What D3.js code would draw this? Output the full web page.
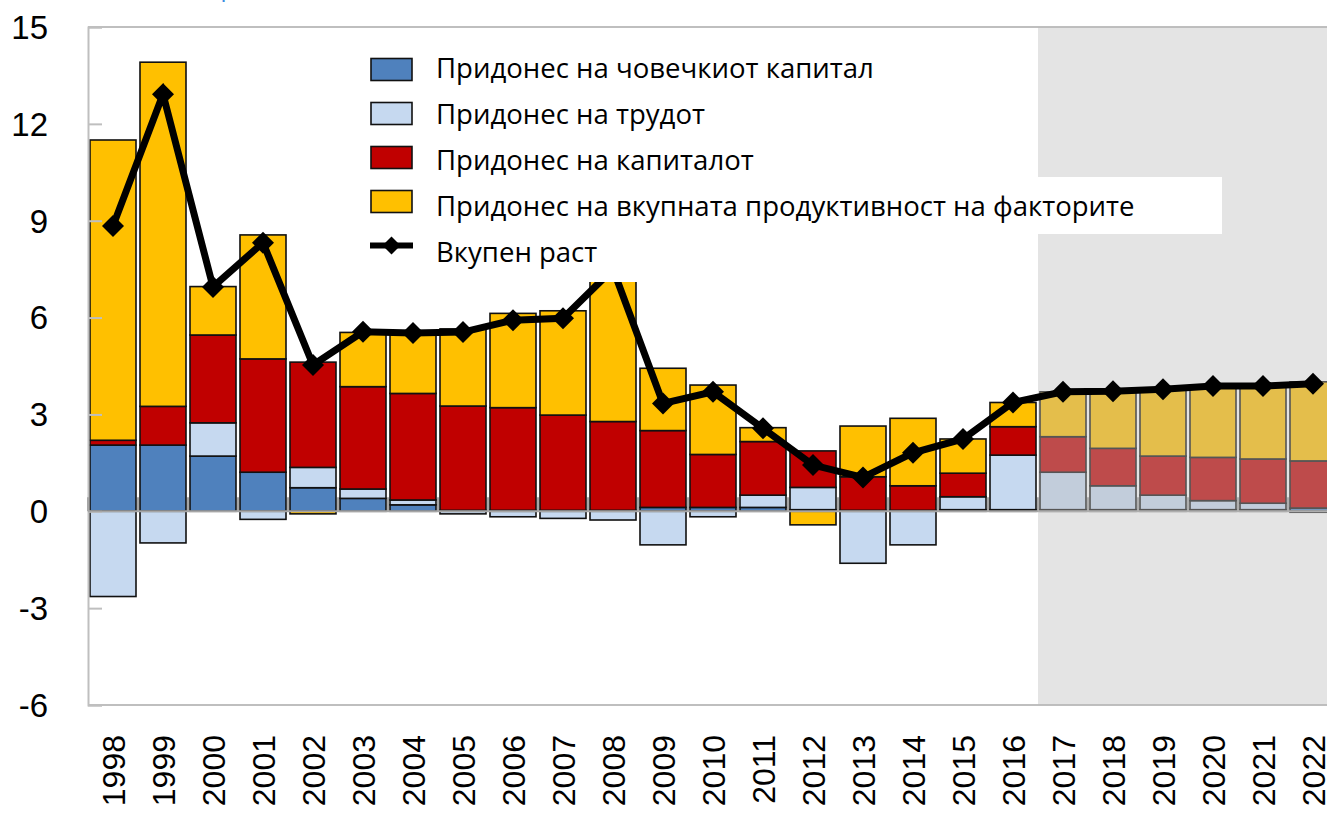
<!DOCTYPE html>
<html>
<head>
<meta charset="utf-8">
<script src="https://cdn.jsdelivr.net/npm/d3@7"></script>
<style>
  html, body { margin: 0; padding: 0; background: #fff; }
  svg { display: block; }
</style>
</head>
<body>
<svg id="chart" width="1327" height="813"></svg>
<script>
// ---------- DATA ----------
const years = ["1998","1999","2000","2001","2002","2003","2004","2005","2006","2007","2008","2009","2010","2011","2012","2013","2014","2015","2016","2017","2018","2019","2020","2021","2022"];
const humanCapital = [2.05, 2.05, 1.71, 1.21, 0.73, 0.40, 0.20, 0.03, 0.03, 0.03, 0.03, 0.12, 0.12, 0.12, 0.05, 0.03, 0.03, 0.05, 0.05, 0.05, 0.05, 0.05, 0.05, 0.05, 0.10];
const labour       = [-2.64, -0.98, 1.03, -0.25, 0.63, 0.29, 0.15, -0.08, -0.17, -0.22, -0.27, -1.04, -0.17, 0.38, 0.69, -1.61, -1.04, 0.40, 1.69, 1.16, 0.74, 0.45, 0.28, 0.20, -0.03];
const capital      = [0.15, 1.20, 2.72, 3.51, 3.26, 3.17, 3.30, 3.23, 3.18, 2.95, 2.75, 2.38, 1.64, 1.66, 1.13, 1.04, 0.76, 0.73, 0.88, 1.10, 1.16, 1.21, 1.34, 1.37, 1.46];
const tfp          = [9.30, 10.66, 1.50, 3.84, -0.08, 1.68, 1.84, 2.39, 2.92, 3.23, 4.99, 1.93, 2.15, 0.43, -0.42, 1.57, 2.09, 1.06, 0.75, 1.39, 1.75, 2.07, 2.19, 2.26, 2.45];
const totalGrowth  = [8.84, 12.92, 6.95, 8.32, 4.53, 5.56, 5.52, 5.55, 5.92, 5.98, 7.50, 3.34, 3.70, 2.57, 1.43, 1.05, 1.81, 2.24, 3.37, 3.70, 3.72, 3.78, 3.88, 3.88, 3.95];
const yTicks = [-6, -3, 0, 3, 6, 9, 12, 15];
const seriesKeys = ["human", "labour", "capital", "tfp"];
const seriesNames = ["Придонес на човечкиот капитал", "Придонес на трудот", "Придонес на капиталот", "Придонес на вкупната продуктивност на факторите"];
const lineName = "Вкупен раст";
const forecastStart = "2017";
const titleText = "(Стапка на раст, во %)";

// ---------- STYLE ----------
const colors = { human: "#4F81BD", labour: "#C6D9F0", capital: "#C00000", tfp: "#FFC000" };
const axisGrey = "#BFBFBF";

const svg = d3.select("#chart");
const W = 1327, H = 813;
const plot = { left: 88, right: 1338, top: 27, bottom: 705 };

const table = years.map((y, i) => ({
  year: y, human: humanCapital[i], labour: labour[i], capital: capital[i], tfp: tfp[i], total: totalGrowth[i]
}));

const x = d3.scaleBand().domain(years).range([plot.left, plot.right]).paddingInner(0.08).paddingOuter(0.04);
const y = d3.scaleLinear().domain([-6, 15]).range([plot.bottom, plot.top]);

const stacked = d3.stack().keys(seriesKeys).offset(d3.stackOffsetDiverging)(table);

// title (cut off at top)
svg.append("text").attr("x", 92).attr("y", -4)
  .attr("font-family", "Open Sans, sans-serif").attr("font-size", 24)
  .attr("fill", "#3C8DDE").text(titleText);

// bars
const gBars = svg.append("g");
stacked.forEach(s => {
  gBars.append("g").selectAll("rect").data(s).join("rect")
    .attr("x", d => x(d.data.year))
    .attr("width", x.bandwidth())
    .attr("y", d => y(Math.max(d[0], d[1])))
    .attr("height", d => Math.abs(y(d[0]) - y(d[1])))
    .attr("fill", colors[s.key])
    .attr("stroke", "#111")
    .attr("stroke-width", 1.6);
});

// plot frame (top, left, bottom)
svg.append("line").attr("x1", plot.left).attr("x2", W).attr("y1", plot.top).attr("y2", plot.top)
  .attr("stroke", axisGrey).attr("stroke-width", 2);
svg.append("line").attr("x1", plot.left).attr("x2", W).attr("y1", plot.bottom).attr("y2", plot.bottom)
  .attr("stroke", axisGrey).attr("stroke-width", 2);

// y axis
const yAxis = d3.axisRight(y).tickValues(yTicks).tickSize(14).tickFormat("");
const gy = svg.append("g").attr("transform", `translate(${plot.left},0)`).call(yAxis);
gy.select(".domain").attr("stroke", axisGrey).attr("stroke-width", 2);
gy.selectAll(".tick line").attr("stroke", axisGrey).attr("stroke-width", 2);
svg.append("g").selectAll("text").data(yTicks).join("text")
  .attr("x", 48).attr("y", d => y(d)).attr("dy", "0.36em")
  .attr("text-anchor", "end")
  .attr("font-family", "Liberation Sans, Arial, sans-serif").attr("font-size", 33)
  .attr("fill", "#000").text(d => d);

// x axis at zero with ticks at band boundaries
const step = x.step();
const boundaries = years.map(yr => x(yr) - step * x.paddingInner() / 2);
svg.append("line").attr("x1", plot.left).attr("x2", W).attr("y1", y(0)).attr("y2", y(0))
  .attr("stroke", "#A6A6A6").attr("stroke-width", 2);
svg.append("g").selectAll("line").data(boundaries).join("line")
  .attr("x1", d => d).attr("x2", d => d).attr("y1", y(0)).attr("y2", y(0) - 14)
  .attr("stroke", "#A6A6A6").attr("stroke-width", 2);

// x labels
svg.append("g").selectAll("text").data(years).join("text")
  .attr("transform", d => `translate(${x(d) + x.bandwidth() / 2},735) rotate(-90)`)
  .attr("dy", "0.36em")
  .attr("text-anchor", "end")
  .attr("font-family", "Liberation Sans, Arial, sans-serif").attr("font-size", 32)
  .attr("fill", "#000").text(d => d);

// forecast shading (semi-transparent overlay)
svg.append("rect")
  .attr("x", x(forecastStart) - step * x.paddingInner() / 2)
  .attr("y", plot.top)
  .attr("width", W - (x(forecastStart) - step * x.paddingInner() / 2))
  .attr("height", plot.bottom - plot.top)
  .attr("fill", "#BBBBBB").attr("fill-opacity", 0.4);

// total growth line
const cx = d => x(d.year) + x.bandwidth() / 2;
svg.append("path").datum(table)
  .attr("d", d3.line().x(cx).y(d => y(d.total)))
  .attr("fill", "none").attr("stroke", "#000").attr("stroke-width", 7).attr("stroke-linejoin", "miter");
const diamond = (r) => `M0,${-r}L${r},0L0,${r}L${-r},0Z`;
svg.append("g").selectAll("path").data(table).join("path")
  .attr("transform", d => `translate(${cx(d)},${y(d.total)})`)
  .attr("d", diamond(11)).attr("fill", "#000");

// legend
const legend = svg.append("g");
const textBase = i => 77.7 + i * 46;
const swatchC = i => 69.5 + i * 44;
// white backgrounds of legend entries
legend.append("rect").attr("x", 360).attr("y", 38).attr("width", 520).attr("height", 139).attr("fill", "#fff");
legend.append("rect").attr("x", 360).attr("y", 177).attr("width", 1222 - 360).attr("height", 57).attr("fill", "#fff");
legend.append("rect").attr("x", 360).attr("y", 234).attr("width", 300).attr("height", 48).attr("fill", "#fff");

seriesKeys.forEach((k, i) => {
  legend.append("rect").attr("x", 371).attr("y", swatchC(i) - 11).attr("width", 41).attr("height", 22)
    .attr("fill", colors[k]).attr("stroke", "#111").attr("stroke-width", 1.6);
});
legend.append("line").attr("x1", 370).attr("x2", 413).attr("y1", swatchC(4)).attr("y2", swatchC(4))
  .attr("stroke", "#000").attr("stroke-width", 6);
legend.append("path").attr("transform", `translate(391.5,${swatchC(4)})`).attr("d", diamond(9)).attr("fill", "#000");

const labels = seriesNames.concat([lineName]);
const lt = legend.selectAll("text.lg").data(labels).join("text").attr("class", "lg")
  .attr("x", 436).attr("y", (d, i) => textBase(i))
  .attr("font-family", "Open Sans, sans-serif").attr("font-size", 25)
  .attr("fill", "#000").text(d => d);
// fit font so the longest label spans the reference width
const longest = lt.nodes()[3].getComputedTextLength();
const fs = 25 * 699 / longest;
lt.attr("font-size", fs);
</script>
</body>
</html>
